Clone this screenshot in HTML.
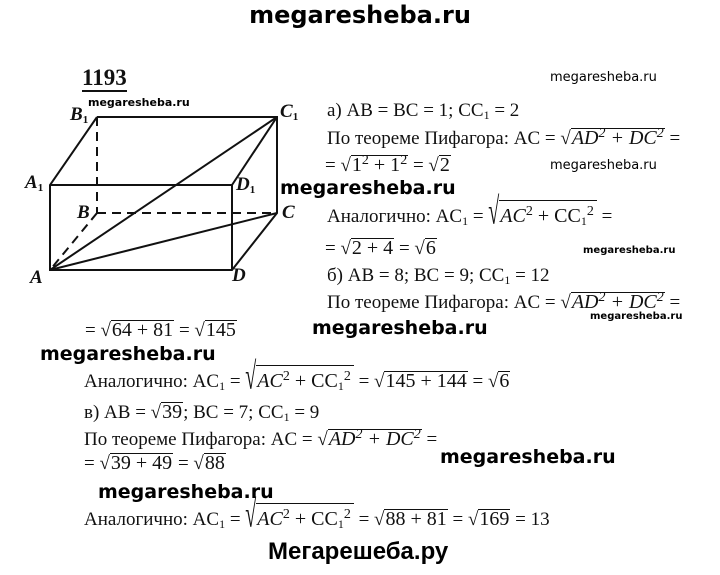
<!DOCTYPE html>
<html><head><meta charset="utf-8"><style>
body{margin:0;background:#fff;}
#p{position:relative;width:720px;height:575px;overflow:hidden;background:#fff;color:#111;}
.t{position:absolute;font-family:"Liberation Serif",serif;font-size:19px;white-space:nowrap;line-height:22px;}
.wm{position:absolute;font-family:"DejaVu Sans","Liberation Sans",sans-serif;font-weight:bold;white-space:nowrap;color:#000;}
.r{display:inline-block;border-top:1.3px solid #111;line-height:19px;padding:0 1px;font-size:20px;}
.i{font-style:italic;}
sup{font-size:14px;vertical-align:7px;line-height:0;}
sub{font-size:12px;vertical-align:-3px;line-height:0;}
.br{display:inline-block;transform:scaleY(1.9);transform-origin:50% 70%;font-size:20px;}
.bo{display:inline-block;border-top:1.3px solid #111;padding:6px 3px 0 1px;margin-top:-6px;line-height:19px;font-size:20px;}
.lbl{position:absolute;font-family:"Liberation Serif",serif;font-style:italic;font-size:19px;font-weight:bold;}
.lbl sub{font-size:11px;font-style:normal;}
</style></head><body><div id="p">
<div class="wm" style="left:0;width:720px;text-align:center;top:1px;font-size:24px;">megaresheba.ru</div>
<div style="position:absolute;left:82px;top:66px;font-family:'Liberation Serif',serif;font-weight:bold;font-size:23px;border-bottom:2px solid #111;line-height:24px;">1193</div>
<div class="wm" style="left:88px;top:96px;font-size:11px;">megaresheba.ru</div>
<svg style="position:absolute;left:0;top:0" width="320" height="300">
<g stroke="#111" stroke-width="2" fill="none">
<polyline points="97,117 277,117 277,213 232,270 50,270 50,185 97,117"/>
<polyline points="50,185 232,185 232,270"/>
<line x1="232" y1="185" x2="277" y2="117"/>
<line x1="50" y1="270" x2="277" y2="117"/>
<line x1="50" y1="270" x2="277" y2="213"/>
<g stroke-dasharray="9,6"><line x1="97" y1="117" x2="97" y2="213"/><line x1="97" y1="213" x2="277" y2="213"/><line x1="97" y1="213" x2="50" y2="270"/></g>
</g></svg>
<div class="lbl" style="left:70px;top:104px;">B<sub>1</sub></div>
<div class="lbl" style="left:280px;top:101px;">C<sub>1</sub></div>
<div class="lbl" style="left:25px;top:172px;">A<sub>1</sub></div>
<div class="lbl" style="left:236px;top:174px;">D<sub>1</sub></div>
<div class="lbl" style="left:77px;top:202px;">B</div>
<div class="lbl" style="left:282px;top:202px;">C</div>
<div class="lbl" style="left:30px;top:267px;">A</div>
<div class="lbl" style="left:232px;top:265px;">D</div>

<div class="wm" style="left:550px;top:70px;font-size:13px;font-weight:normal;">megaresheba.ru</div>
<div class="t" style="left:327px;top:100px;">а) AB = BC = 1; CC<sub>1</sub> = 2</div>
<div class="t" style="left:327px;top:128px;">По теореме Пифагора: AC = √<span class="r i">AD<sup>2</sup> + DC<sup>2</sup></span> =</div>
<div class="t" style="left:325px;top:155px;">= √<span class="r">1<sup>2</sup> + 1<sup>2</sup></span> = √<span class="r">2</span></div>
<div class="wm" style="left:550px;top:158px;font-size:13px;font-weight:normal;">megaresheba.ru</div>
<div class="wm" style="left:280px;top:177px;font-size:19px;">megaresheba.ru</div>
<div class="t" style="left:327px;top:205px;">Аналогично: AC<sub>1</sub> = <span class="br">√</span><span class="bo"><span class="i">AC</span><sup>2</sup> + CC<sub>1</sub><sup>2</sup></span> =</div>
<div class="t" style="left:325px;top:238px;">= √<span class="r">2 + 4</span> = √<span class="r">6</span></div>
<div class="wm" style="left:583px;top:245px;font-size:10px;">megaresheba.ru</div>
<div class="t" style="left:327px;top:265px;">б) AB = 8; BC = 9; CC<sub>1</sub> = 12</div>
<div class="t" style="left:327px;top:292px;">По теореме Пифагора: AC = √<span class="r i">AD<sup>2</sup> + DC<sup>2</sup></span> =</div>
<div class="wm" style="left:590px;top:311px;font-size:10px;">megaresheba.ru</div>
<div class="t" style="left:85px;top:320px;">= √<span class="r">64 + 81</span> = √<span class="r">145</span></div>
<div class="wm" style="left:312px;top:317px;font-size:19px;">megaresheba.ru</div>
<div class="wm" style="left:40px;top:343px;font-size:19px;">megaresheba.ru</div>
<div class="t" style="left:84px;top:370px;">Аналогично: AC<sub>1</sub> = <span class="br">√</span><span class="bo"><span class="i">AC</span><sup>2</sup> + CC<sub>1</sub><sup>2</sup></span> = √<span class="r">145 + 144</span> = √<span class="r">6</span></div>
<div class="t" style="left:84px;top:402px;">в) AB = √<span class="r">39</span>; BC = 7; CC<sub>1</sub> = 9</div>
<div class="t" style="left:84px;top:429px;">По теореме Пифагора: AC = √<span class="r i">AD<sup>2</sup> + DC<sup>2</sup></span> =</div>
<div class="wm" style="left:440px;top:446px;font-size:19px;">megaresheba.ru</div>
<div class="t" style="left:84px;top:453px;">= √<span class="r">39 + 49</span> = √<span class="r">88</span></div>
<div class="wm" style="left:98px;top:481px;font-size:19px;">megaresheba.ru</div>
<div class="t" style="left:84px;top:508px;">Аналогично: AC<sub>1</sub> = <span class="br">√</span><span class="bo"><span class="i">AC</span><sup>2</sup> + CC<sub>1</sub><sup>2</sup></span> = √<span class="r">88 + 81</span> = √<span class="r">169</span> = 13</div>
<div class="wm" style="left:268px;top:538px;font-size:24px;font-family:'Liberation Sans',sans-serif;">Мегарешеба.ру</div>
</div></body></html>
